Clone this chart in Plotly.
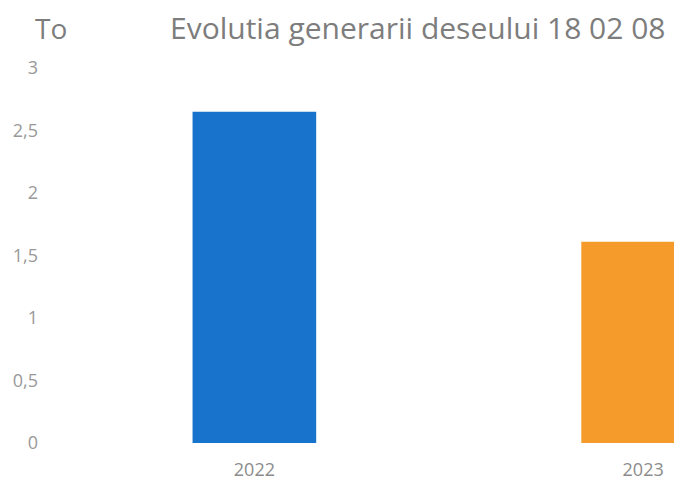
import plotly.graph_objects as go

# ---------------------------------------------------------------------------
# Data
# ---------------------------------------------------------------------------

years = ["2022", "2023"]
tonnes = [2.65, 1.61]
bar_colours = ["#1873cc", "#f49b2c"]

title_text = "Evolutia generarii deseului 18 02 08"
unit_text = "To"

GREY = "#8c8c8c"
TITLE_GREY = "#7d7d7d"
FONT = "Open Sans"

# The page body has an 8px margin, so the figure is 8px smaller than the window.
W, H = 674, 474
M_L, M_R, M_T, M_B = 52, 0, 60, 39
PLOT_H = H - M_T - M_B
HEAD_Y = 20  # vertical centre of the heading line, px from figure top

fig = go.Figure()
fig.add_trace(
    go.Bar(
        x=years,
        y=tonnes,
        width=0.318,
        marker=dict(color=bar_colours, line=dict(width=0)),
        showlegend=False,
        hoverinfo="x+y",
    )
)

fig.update_layout(
    width=W,
    height=H,
    plot_bgcolor="white",
    paper_bgcolor="white",
    margin=dict(l=M_L, r=M_R, t=M_T, b=M_B),
    separators=",.",
    font=dict(family=FONT, color=GREY),
    title=dict(
        text=title_text,
        font=dict(family=FONT, size=30, color=TITLE_GREY),
        xref="container",
        yref="container",
        x=162 / W,
        xanchor="left",
        y=1 - HEAD_Y / H,
        yanchor="middle",
    ),
    xaxis=dict(
        type="category",
        range=[-0.5, 1.1],
        showgrid=False,
        showline=False,
        zeroline=False,
        ticks="",
        tickfont=dict(family=FONT, size=18, color=GREY),
        ticklabelstandoff=14,
        automargin=False,
    ),
    yaxis=dict(
        range=[0, 3],
        dtick=0.5,
        showgrid=False,
        showline=False,
        zeroline=False,
        ticks="",
        tickfont=dict(family=FONT, size=18, color="#999999"),
        ticklabelstandoff=21,
        automargin=False,
    ),
)

# "To" unit label, top-left
fig.add_annotation(
    text=unit_text,
    xref="paper",
    yref="paper",
    x=(25 - M_L) / (W - M_L - M_R),
    y=(H - M_B - HEAD_Y) / PLOT_H,
    xanchor="left",
    yanchor="middle",
    showarrow=False,
    font=dict(family=FONT, size=28, color=TITLE_GREY),
)

fig.write_html("out.html")
